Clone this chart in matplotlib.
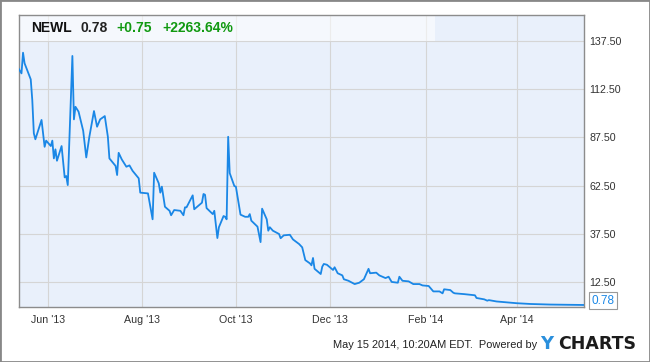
import matplotlib
matplotlib.use('Agg')
import matplotlib.pyplot as plt
from matplotlib.patches import Rectangle
import pandas as pd

ticker = 'NEWL'
last_price = '0.78'
change = '+0.75'
change_pct = '+2263.64%'
stamp = 'May 15 2014, 10:20AM EDT.  Powered by'

dates = ['2013-05-13', '2013-05-15', '2013-05-16', '2013-05-17', '2013-05-21', '2013-05-22',
         '2013-05-23', '2013-05-24', '2013-05-28', '2013-05-30', '2013-05-31', '2013-06-03',
         '2013-06-04', '2013-06-05', '2013-06-06', '2013-06-07', '2013-06-10', '2013-06-12',
         '2013-06-13', '2013-06-14', '2013-06-17', '2013-06-18', '2013-06-19', '2013-06-21',
         '2013-06-24', '2013-06-26', '2013-06-28', '2013-07-01', '2013-07-03', '2013-07-05',
         '2013-07-08', '2013-07-10', '2013-07-11', '2013-07-15', '2013-07-16', '2013-07-17',
         '2013-07-19', '2013-07-22', '2013-07-24', '2013-07-26', '2013-07-30', '2013-07-31',
         '2013-08-05', '2013-08-08', '2013-08-09', '2013-08-12', '2013-08-13', '2013-08-14',
         '2013-08-16', '2013-08-19', '2013-08-20', '2013-08-22', '2013-08-26', '2013-08-28',
         '2013-08-29', '2013-08-30', '2013-09-03', '2013-09-04', '2013-09-09', '2013-09-10',
         '2013-09-11', '2013-09-12', '2013-09-16', '2013-09-17', '2013-09-19', '2013-09-20',
         '2013-09-23', '2013-09-24', '2013-09-25', '2013-09-26', '2013-09-27', '2013-09-30',
         '2013-10-01', '2013-10-04', '2013-10-07', '2013-10-09', '2013-10-10', '2013-10-11',
         '2013-10-15', '2013-10-17', '2013-10-18', '2013-10-21', '2013-10-22', '2013-10-23',
         '2013-10-25', '2013-10-29', '2013-10-30', '2013-11-01', '2013-11-05', '2013-11-07',
         '2013-11-11', '2013-11-13', '2013-11-15', '2013-11-18', '2013-11-19', '2013-11-20',
         '2013-11-21', '2013-11-25', '2013-11-26', '2013-11-27', '2013-11-29', '2013-12-03',
         '2013-12-04', '2013-12-06', '2013-12-09', '2013-12-10', '2013-12-13', '2013-12-17',
         '2013-12-20', '2013-12-23', '2013-12-26', '2013-12-27', '2013-12-31', '2014-01-02',
         '2014-01-06', '2014-01-08', '2014-01-10', '2014-01-14', '2014-01-15', '2014-01-17',
         '2014-01-21', '2014-01-24', '2014-01-28', '2014-01-30', '2014-02-03', '2014-02-06',
         '2014-02-10', '2014-02-12', '2014-02-13', '2014-02-17', '2014-02-19', '2014-02-20',
         '2014-02-26', '2014-03-05', '2014-03-06', '2014-03-11', '2014-03-13', '2014-03-14',
         '2014-03-19', '2014-03-25', '2014-04-01', '2014-04-10', '2014-04-23', '2014-05-15']

prices = [123.2, 120.6, 131.3, 125.8, 117.5, 106.8,
          89.6, 86.5, 96.5, 82.6, 85.8, 83.0,
          85.8, 76.6, 81.3, 75.4, 83.0, 66.8,
          67.5, 62.8, 129.6, 96.8, 103.3, 100.8,
          90.9, 77.1, 87.8, 101.1, 93.0, 96.8,
          98.5, 87.8, 76.6, 72.7, 68.0, 79.5,
          76.1, 72.3, 73.0, 70.2, 66.3, 58.9,
          58.5, 45.1, 69.2, 63.7, 58.9, 62.0,
          51.6, 49.5, 47.2, 49.9, 49.5, 47.2,
          51.3, 51.3, 57.5, 50.3, 53.7, 58.2,
          57.8, 50.9, 47.8, 49.5, 35.4, 41.0,
          46.8, 46.4, 45.1, 87.8, 69.0, 62.3,
          62.0, 47.5, 46.4, 46.4, 47.8, 44.4,
          41.3, 33.3, 50.6, 45.1, 39.2, 41.0,
          39.2, 37.5, 35.3, 36.8, 37.1, 34.7,
          32.3, 30.6, 24.0, 22.3, 21.3, 25.1,
          19.5, 16.8, 20.6, 22.0, 21.6, 18.9,
          20.3, 17.2, 16.1, 14.1, 13.3, 11.6,
          12.3, 14.1, 19.5, 17.2, 17.5, 16.1,
          14.7, 15.4, 12.7, 12.3, 15.4, 13.3,
          13.0, 11.6, 11.6, 10.9, 10.6, 7.8,
          7.8, 6.8, 8.9, 8.5, 7.1, 6.8,
          6.4, 5.8, 4.4, 3.7, 3.0, 3.3,
          2.6, 2.2, 1.7, 1.3, 1.0, 0.78]

tick_dates = ['2013-06-01', '2013-08-01', '2013-10-01', '2013-12-01', '2014-02-01', '2014-04-01']
tick_labels = ["Jun '13", "Aug '13", "Oct '13", "Dec '13", "Feb '14", "Apr '14"]
y_ticks = [12.5, 37.5, 62.5, 87.5, 112.5, 137.5]

plt.rcParams['font.family'] = ['Liberation Sans', 'DejaVu Sans']

x = pd.to_datetime(dates)
fig = plt.figure(figsize=(6.5, 3.62), dpi=100)
ax = fig.add_axes([0.0292, 0.1528, 0.8694, 0.8058])
ax.set_facecolor('#e9f0fb')

ax.plot(x, prices, color='#1a87e6', lw=1.3, zorder=3)
ax.set_xlim(pd.Timestamp('2013-05-13 09:00'), pd.Timestamp('2014-05-14 18:00'))
ax.set_ylim(-0.1, 150.8)

ax.set_xticks(pd.to_datetime(tick_dates))
ax.set_xticklabels(tick_labels)
ax.set_yticks(y_ticks)
ax.set_yticklabels(['%.2f' % v for v in y_ticks])
ax.yaxis.tick_right()
ax.tick_params(axis='both', length=0, labelsize=7.7, colors='#333333')
ax.tick_params(axis='x', pad=6)
ax.tick_params(axis='y', pad=4)
ax.grid(True, color='#d5d5d5', lw=0.8, zorder=1)
ax.set_axisbelow(True)
for s in ax.spines.values():
    s.set_color('#8c8c8c')
    s.set_linewidth(1.0)

# header band
ax.add_patch(Rectangle((0, 0.912), 0.736, 0.088, transform=ax.transAxes,
                       facecolor='white', alpha=0.55, edgecolor='none', zorder=2))
hy = 0.956
ax.text(0.021, hy, ticker, transform=ax.transAxes, fontsize=10, fontweight='bold',
        color='#111111', va='center', zorder=4)
ax.text(0.109, hy, last_price, transform=ax.transAxes, fontsize=10, fontweight='bold',
        color='#222222', va='center', zorder=4)
ax.text(0.173, hy, change, transform=ax.transAxes, fontsize=10, fontweight='bold',
        color='#119911', va='center', zorder=4)
ax.text(0.253, hy, change_pct, transform=ax.transAxes, fontsize=10, fontweight='bold',
        color='#119911', va='center', zorder=4)

# last value label
ax.annotate(last_price, xy=(x[-1], prices[-1]), xytext=(5, 3), textcoords='offset points',
            fontsize=8.5, color='#1a87e6', va='center', ha='left', annotation_clip=False,
            bbox=dict(boxstyle='square,pad=0.2', fc='white', ec='#999999', lw=0.8))

# footer
fig.text(0.826, 0.046, stamp, fontsize=7.9, color='#222222', ha='right', va='center')
fig.text(0.831, 0.050, 'Y', fontsize=13, fontweight='bold', color='#2a8fdc',
         ha='left', va='center', family='DejaVu Sans')
fig.text(0.858, 0.050, 'CHARTS', fontsize=12.5, fontweight='bold', color='#1c1c1c',
         ha='left', va='center', family='DejaVu Sans')

fig.patches.append(Rectangle((0, 0), 1, 1, transform=fig.transFigure, fill=False,
                             edgecolor='#888888', lw=2, zorder=10))

fig.savefig('out.png', dpi=100, facecolor='white')
